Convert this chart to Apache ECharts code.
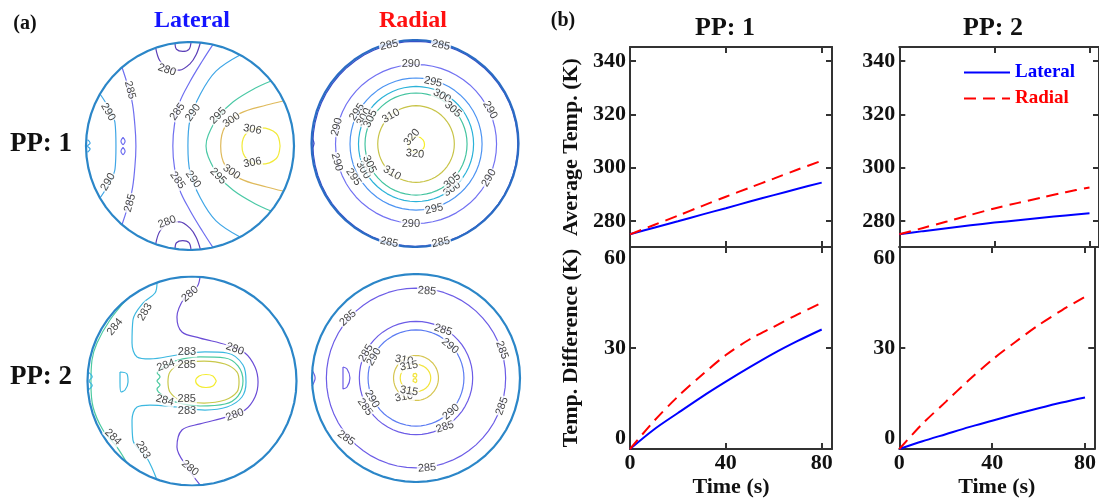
<!DOCTYPE html>
<html>
<head>
<meta charset="utf-8">
<script src="https://cdn.jsdelivr.net/npm/echarts@6/dist/echarts.min.js"></script>
<style>
html, body { margin: 0; padding: 0; background: #fff; }
#main { width: 1099px; height: 500px; }
</style>
</head>
<body>
<div id="main"></div>
<script>
// ---- (b) time series ----
const timeS = [0, 10, 20, 30, 40, 50, 60, 70, 80];
const avgLatPP1 = [275.0, 277.5, 279.9, 282.4, 284.8, 287.3, 289.7, 292.1, 294.4];
const avgRadPP1 = [275.0, 278.5, 282.0, 285.6, 289.1, 292.5, 295.9, 299.3, 302.6];
const avgLatPP2 = [275.0, 276.2, 277.3, 278.4, 279.4, 280.3, 281.2, 282.1, 282.9];
const avgRadPP2 = [275.0, 277.4, 279.8, 282.3, 284.7, 286.8, 288.8, 290.8, 292.6];
const diffLatPP1 = [0, 5.8, 10.7, 15.5, 20.0, 24.3, 28.4, 32.1, 35.5];
const diffRadPP1 = [0, 8.3, 15.6, 22.0, 27.9, 32.6, 36.3, 40.0, 43.4];
const diffLatPP2 = [0, 2.3, 4.4, 6.5, 8.4, 10.3, 12.1, 13.8, 15.3];
const diffRadPP2 = [0, 7.5, 14.0, 20.5, 26.5, 31.8, 36.8, 41.2, 45.2];
const avgTicks = [280, 300, 320, 340];
const diffTicks = [0, 30, 60];
const timeTicks = [0, 40, 80];

// ---- (a) contour lines, unit-circle coords, [level, points] ----
const lat1Lines = [
  [306, [[0.866,0],[0.83,0.12],[0.683,0.175],[0.55,0.13],[0.5,0],[0.55,-0.13],[0.683,-0.175],[0.83,-0.12],[0.866,0]]],
  [300, [[0.895,0.433],[0.737,0.394],[0.481,0.314],[0.337,0.186],[0.295,0],[0.337,-0.186],[0.481,-0.314],[0.737,-0.394],[0.895,-0.433]]],
  [295, [[0.78,0.625],[0.625,0.555],[0.416,0.426],[0.272,0.282],[0.176,0.106],[0.154,0],[0.176,-0.106],[0.272,-0.282],[0.416,-0.426],[0.625,-0.555],[0.78,-0.625]]],
  [290, [[0.481,0.875],[0.25,0.72],[0.1,0.5],[0.0,0.25],[-0.02,0],[0.0,-0.25],[0.1,-0.5],[0.25,-0.72],[0.481,-0.875]]],
  [285, [[0.22,0.975],[0.12,0.82],[0.0,0.62],[-0.1,0.42],[-0.15,0.2],[-0.165,0],[-0.15,-0.2],[-0.1,-0.42],[0.0,-0.62],[0.12,-0.82],[0.22,-0.975]]],
  [280, [[-0.33,0.944],[-0.29,0.82],[-0.2,0.74],[-0.1,0.73],[0.0,0.79],[0.06,0.88],[0.1,0.995]]],
  [280, [[-0.33,-0.944],[-0.29,-0.82],[-0.2,-0.74],[-0.1,-0.73],[0.0,-0.79],[0.06,-0.88],[0.1,-0.995]]],
  [280, [[-0.144,0.99],[-0.13,0.93],[-0.07,0.91],[-0.01,0.93],[0.01,1.0]]],
  [280, [[-0.144,-0.99],[-0.13,-0.93],[-0.07,-0.91],[-0.01,-0.93],[0.01,-1.0]]],
  [285, [[-0.654,0.757],[-0.56,0.44],[-0.53,0.2],[-0.52,0],[-0.53,-0.2],[-0.56,-0.44],[-0.654,-0.757]]],
  [290, [[-0.865,0.5],[-0.769,0.346],[-0.721,0.221],[-0.712,0],[-0.721,-0.221],[-0.769,-0.346],[-0.865,-0.5]]],
  [285, [[-0.644,0.083],[-0.624,0.048],[-0.644,0.013],[-0.664,0.048],[-0.644,0.083]]],
  [285, [[-0.644,-0.013],[-0.624,-0.048],[-0.644,-0.083],[-0.664,-0.048],[-0.644,-0.013]]],
  [290, [[-0.985,0.06],[-0.96,0.03],[-0.985,0],[-0.96,-0.03],[-0.985,-0.06]]]
];
const lat1Labels = [
  ['280',-0.221,0.731,-20], ['280',-0.221,-0.731,20],
  ['285',-0.577,0.538,-75], ['285',-0.577,-0.548,75],
  ['290',-0.788,0.327,-60], ['290',-0.788,-0.346,60],
  ['285',-0.12,0.33,55], ['285',-0.12,-0.33,-55],
  ['290',0.03,0.32,55], ['290',0.03,-0.32,-55],
  ['295',0.27,0.29,45], ['295',0.27,-0.29,-45],
  ['300',0.4,0.25,35], ['300',0.4,-0.25,-35],
  ['306',0.6,0.16,-10], ['306',0.6,-0.16,10]
];

// radial PP1 rings: [level, cx, cy, rx, ry]
const rad1Rings = [
  [285, 0.003, -0.003, 0.99, 0.99],
  [290, 0.01, -0.005, 0.778, 0.768],
  [295, 0.01, -0.005, 0.638, 0.638],
  [300, 0.01, -0.005, 0.556, 0.556],
  [305, 0.01, -0.005, 0.493, 0.493],
  [310, 0.01, -0.005, 0.37, 0.37],
  [320, 0.015, -0.01, 0.077, 0.077]
];
const rad1Lines = [
  [285, [[-1.0,0.06],[-0.975,0.0],[-1.0,-0.06]]]
];
const rad1Labels = [
  ['285',-0.25,0.95,12], ['285',0.25,0.95,-12], ['285',-0.25,-0.955,-12], ['285',0.25,-0.955,12],
  ['290',-0.04,0.765,0], ['290',-0.755,0.16,75], ['290',-0.755,-0.18,-75],
  ['290',0.725,0.324,-60], ['290',0.715,-0.333,60], ['290',-0.04,-0.775,0],
  ['295',0.174,0.594,-12], ['295',-0.56,0.304,55], ['295',-0.595,-0.324,-55], ['295',0.184,-0.633,12],
  ['300',0.261,0.459,-28], ['300',-0.493,0.256,60], ['300',-0.5,-0.256,-60], ['300',0.357,-0.44,35],
  ['305',0.366,0.33,-42], ['305',-0.43,0.24,65], ['305',-0.44,-0.2,-65], ['305',0.36,-0.36,40],
  ['310',-0.232,0.266,30], ['310',-0.222,-0.285,-30],
  ['320',-0.03,0.06,50], ['320',0.0,-0.1,-5]
];

const lat2Lines = [
  [286, [[0.233,0],[0.2,0.048],[0.134,0.062],[0.068,0.048],[0.035,0],[0.068,-0.048],[0.134,-0.062],[0.2,-0.048],[0.233,0]]],
  [285, [[-0.23,-0.01],[-0.211,0.086],[-0.115,0.163],[0.115,0.191],[0.316,0.163],[0.431,0.086],[0.45,-0.01],[0.431,-0.105],[0.316,-0.182],[0.115,-0.211],[-0.115,-0.182],[-0.211,-0.105],[-0.23,-0.01]]],
  [284, [[-0.335,0.077],[-0.287,0.124],[-0.163,0.191],[0.077,0.23],[0.316,0.22],[0.44,0.144],[0.488,0],[0.44,-0.144],[0.316,-0.22],[0.077,-0.239],[-0.163,-0.2],[-0.287,-0.134],[-0.335,-0.077],[-0.306,-0.038],[-0.335,0],[-0.306,0.038],[-0.335,0.077]]],
  [284, [[-0.622,0.785],[-0.785,0.584],[-0.909,0.364],[-0.957,0.201],[-0.967,-0.019],[-0.947,-0.249],[-0.852,-0.469],[-0.718,-0.632],[-0.622,-0.785]]],
  [283, [[-0.335,0.938],[-0.354,0.842],[-0.469,0.746],[-0.565,0.584],[-0.574,0.364],[-0.526,0.23],[-0.402,0.211],[-0.144,0.249],[0.124,0.278],[0.335,0.268],[0.488,0.153],[0.517,-0.01],[0.478,-0.153],[0.335,-0.249],[0.124,-0.278],[-0.144,-0.249],[-0.402,-0.23],[-0.526,-0.249],[-0.574,-0.373],[-0.565,-0.565],[-0.431,-0.737],[-0.335,-0.947]]],
  [283, [[-0.689,0.086],[-0.622,0.067],[-0.612,-0.01],[-0.641,-0.086],[-0.679,-0.105],[-0.689,-0.01],[-0.689,0.086]]],
  [280, [[0.077,0.995],[0.048,0.9],[-0.067,0.804],[-0.144,0.612],[-0.096,0.469],[0.077,0.411],[0.335,0.344],[0.507,0.268],[0.603,0.134],[0.632,-0.01],[0.603,-0.153],[0.507,-0.278],[0.335,-0.344],[0.077,-0.411],[-0.096,-0.469],[-0.144,-0.632],[-0.048,-0.823],[0.077,-0.995]]],
  [283, [[-0.985,0.08],[-0.955,0.04],[-0.985,0],[-0.955,-0.04],[-0.985,-0.08]]]
];
const lat2Labels = [
  ['280',-0.019,0.833,40], ['280',0.411,0.306,-20], ['280',0.411,-0.325,20], ['280',-0.019,-0.833,-40],
  ['283',-0.45,0.66,60], ['283',-0.469,-0.66,-60], ['283',-0.048,0.278,0], ['283',-0.048,-0.287,0],
  ['284',-0.737,0.517,50], ['284',-0.756,-0.536,-45], ['284',-0.25,0.15,20], ['284',-0.26,-0.185,-15],
  ['285',-0.05,0.15,0], ['285',-0.05,-0.175,0]
];

const rad2Rings = [
  [285, 0.0, 0.0, 0.862, 0.865],
  [285, 0.0, 0.0, 0.545, 0.545],
  [290, 0.0, 0.0, 0.461, 0.462],
  [310, 0.0, 0.0, 0.216, 0.216],
  [315, -0.005, 0.0, 0.147, 0.132],
  [318, -0.01, 0.025, 0.02, 0.022],
  [318, -0.01, -0.025, 0.02, 0.022]
];
const rad2Lines = [
  [285, [[-0.702,0.106],[-0.663,0.087],[-0.635,0],[-0.663,-0.087],[-0.702,-0.106],[-0.702,0.106]]],
  [285, [[-1.0,0.077],[-0.97,0],[-1.0,-0.077]]]
];
const rad2Labels = [
  ['285',0.106,0.837,-5], ['285',-0.654,0.577,42], ['285',0.827,0.269,-70], ['285',0.827,-0.269,70],
  ['285',-0.673,-0.577,-35], ['285',0.106,-0.865,5],
  ['285',0.26,0.462,-18], ['285',-0.481,0.24,60], ['285',-0.49,-0.279,-55], ['285',0.279,-0.471,18],
  ['290',-0.404,0.202,60], ['290',0.327,0.308,-40], ['290',-0.423,-0.202,-60], ['290',0.337,-0.327,40],
  ['310',-0.115,0.173,-10], ['310',-0.115,-0.183,10],
  ['315',-0.067,0.115,10], ['315',-0.067,-0.125,-10]
];

// contour colours per panel (styles kept apart from data)
const lat1Colors = {280:'#5b3fb8', 285:'#6f6ff0', 290:'#3fa6e6', 295:'#4cc9a6', 300:'#dfba5c', 306:'#f2ea3a'};
const rad1Colors = {285:'#3a4ac8', 290:'#7272f2', 295:'#4d94f2', 300:'#2bb2d8', 305:'#44c4a0', 310:'#c8c448', 320:'#f6ee2a'};
const lat2Colors = {280:'#6a4cd6', 283:'#3cb8e0', 284:'#4ccaa0', 285:'#c9c84a', 286:'#f3ec2c'};
const rad2Colors = {285:'#6c5ce6', 290:'#5c7cf2', 310:'#d6c652', 315:'#f2e43a', 318:'#f2e43a'};

function ringPoints(c) {
  const pts = [];
  for (let i = 0; i <= 60; i++) {
    const a = i / 60 * 2 * Math.PI;
    pts.push([c[1] + c[3] * Math.cos(a), c[2] + c[4] * Math.sin(a)]);
  }
  return pts;
}

const grids = [], xAxes = [], yAxes = [], series = [];
const serif = '"Liberation Serif", "Times New Roman", serif';

// contour panels
const panels = [
  {left: 86, top: 42, size: 208, lines: lat1Lines, rings: [], labels: lat1Labels, colors: lat1Colors, border: '#2b86c8'},
  {left: 311.5, top: 40, size: 207, lines: rad1Lines, rings: rad1Rings, labels: rad1Labels, colors: rad1Colors, border: '#2a6cc4'},
  {left: 87.5, top: 276.5, size: 209, lines: lat2Lines, rings: [], labels: lat2Labels, colors: lat2Colors, border: '#2b86c8'},
  {left: 312, top: 274, size: 208, lines: rad2Lines, rings: rad2Rings, labels: rad2Labels, colors: rad2Colors, border: '#2b86c8'}
];
panels.forEach(function (p) {
  const gi = grids.length;
  grids.push({left: p.left, top: p.top, width: p.size, height: p.size});
  xAxes.push({gridIndex: gi, type: 'value', min: -1, max: 1, show: false});
  yAxes.push({gridIndex: gi, type: 'value', min: -1, max: 1, show: false});
  const ax = xAxes.length - 1;
  const base = {type: 'line', xAxisIndex: ax, yAxisIndex: ax, symbol: 'none', silent: true, animation: false};
  series.push(Object.assign({}, base, {data: ringPoints([0, 0, 0, 1, 1]), lineStyle: {color: p.border, width: 2.2}, z: 3}));
  p.rings.forEach(function (c) {
    series.push(Object.assign({}, base, {data: ringPoints(c), lineStyle: {color: p.colors[c[0]], width: 1.2}, z: 2}));
  });
  p.lines.forEach(function (l) {
    series.push(Object.assign({}, base, {data: l[1], smooth: 0.35, lineStyle: {color: p.colors[l[0]], width: 1.2}, z: 2}));
  });
  series.push({
    type: 'scatter', xAxisIndex: ax, yAxisIndex: ax, symbolSize: 2, silent: true, animation: false, z: 4,
    itemStyle: {color: 'rgba(255,255,255,0)'},
    label: {show: true, position: 'inside', fontSize: 11, color: '#111', fontFamily: '"Liberation Sans", Arial, sans-serif',
            backgroundColor: '#fff', padding: [0, 1]},
    labelLayout: {hideOverlap: false},
    data: p.labels.map(function (l) { return {value: [l[1], l[2]], label: {formatter: l[0], rotate: l[3]}}; })
  });
});

// line chart panels
const charts = [
  {left: 630, top: 47, width: 202, height: 200, xmax: 84.3, ymin: 270.25, ymax: 345.25, yTicks: avgTicks, bottom: false, yName: 'Average Temp. (K)', lat: avgLatPP1, rad: avgRadPP1},
  {left: 630, top: 247, width: 202, height: 202, xmax: 84.3, ymin: 0, ymax: 60, yTicks: diffTicks, bottom: true, yName: 'Temp. Difference (K)', lat: diffLatPP1, rad: diffRadPP1},
  {left: 899.3, top: 47, width: 201, height: 200, xmax: 84, ymin: 270.25, ymax: 345.25, yTicks: avgTicks, bottom: false, yName: '', lat: avgLatPP2, rad: avgRadPP2},
  {left: 899.3, top: 247, width: 201, height: 202, xmax: 84, ymin: 0, ymax: 60, yTicks: diffTicks, bottom: true, yName: '', lat: diffLatPP2, rad: diffRadPP2}
];
const axLine = {show: true, onZero: false, lineStyle: {color: '#333', width: 2}};
const tickIn = function (vals) { return {show: true, inside: true, length: 6, customValues: vals, lineStyle: {color: '#333', width: 2}}; };
const lblFont = {fontFamily: serif, fontWeight: 'bold', fontSize: 22, color: '#111'};
charts.forEach(function (c) {
  const gi = grids.length;
  grids.push({left: c.left, top: c.top, width: c.width, height: c.height});
  const xi = xAxes.length;
  xAxes.push({
    gridIndex: gi, type: 'value', position: 'bottom', min: 0, max: c.xmax,
    axisLine: axLine, axisTick: tickIn(timeTicks), splitLine: {show: false},
    axisLabel: Object.assign({show: c.bottom, customValues: timeTicks, margin: 3}, lblFont),
    name: c.bottom ? 'Time (s)' : '', nameLocation: 'middle', nameGap: 27,
    nameTextStyle: {fontFamily: serif, fontWeight: 'bold', fontSize: 22, color: '#111'}
  });
  xAxes.push({
    gridIndex: gi, type: 'value', position: 'top', min: 0, max: c.xmax,
    axisLine: axLine, axisTick: tickIn(timeTicks), splitLine: {show: false}, axisLabel: {show: false}
  });
  const yi = yAxes.length;
  const yLabel = Object.assign({customValues: c.yTicks, margin: 4}, lblFont);
  if (c.bottom) { yLabel.verticalAlignMinLabel = 'bottom'; yLabel.verticalAlignMaxLabel = 'top'; }
  yAxes.push({
    gridIndex: gi, type: 'value', position: 'left', min: c.ymin, max: c.ymax,
    axisLine: axLine, axisTick: tickIn(c.yTicks), splitLine: {show: false},
    axisLabel: yLabel,
    name: c.yName, nameLocation: 'middle', nameGap: 48, nameRotate: 90,
    nameTextStyle: {fontFamily: serif, fontWeight: 'bold', fontSize: 22, color: '#111'}
  });
  yAxes.push({
    gridIndex: gi, type: 'value', position: 'right', min: c.ymin, max: c.ymax,
    axisLine: axLine, axisTick: tickIn(c.yTicks), splitLine: {show: false}, axisLabel: {show: false}
  });
  series.push({
    name: 'Lateral', type: 'line', xAxisIndex: xi, yAxisIndex: yi, symbol: 'none', smooth: 0.3, animation: false,
    data: timeS.map(function (t, i) { return [t, c.lat[i]]; }),
    lineStyle: {color: '#0000ff', width: 2}, itemStyle: {color: '#0000ff'}, z: 3
  });
  series.push({
    name: 'Radial', type: 'line', xAxisIndex: xi, yAxisIndex: yi, symbol: 'none', smooth: 0.3, animation: false,
    data: timeS.map(function (t, i) { return [t, c.rad[i]]; }),
    lineStyle: {color: '#ff0000', width: 2, type: [12, 7]}, itemStyle: {color: '#ff0000'}, z: 3
  });
});

const txt = function (s, x, y, size, color) {
  return {type: 'text', x: x, y: y, silent: true,
    style: {text: s, fill: color || '#111', font: 'bold ' + size + 'px ' + serif,
            align: 'center', verticalAlign: 'middle', textAlign: 'center', textVerticalAlign: 'middle'}};
};

const chart = echarts.init(document.getElementById('main'));
chart.setOption({
  animation: false,
  backgroundColor: '#fff',
  grid: grids,
  xAxis: xAxes,
  yAxis: yAxes,
  legend: {
    orient: 'vertical', left: 958, top: 58, itemWidth: 46, itemHeight: 14, itemGap: 7,
    itemStyle: {opacity: 0},
    textStyle: {fontFamily: serif, fontWeight: 'bold', fontSize: 19},
    data: [{name: 'Lateral', textStyle: {color: '#0000ff'}}, {name: 'Radial', textStyle: {color: '#ff0000'}}]
  },
  graphic: [
    txt('(a)', 25, 24, 20),
    txt('Lateral', 192, 21, 24, '#1414ff'),
    txt('Radial', 413, 21, 24, '#ff1010'),
    txt('PP: 1', 41, 144, 27),
    txt('PP: 2', 41, 377, 27),
    txt('(b)', 563, 21, 20),
    txt('PP: 1', 725, 28, 26),
    txt('PP: 2', 993, 28, 26)
  ],
  series: series
});
</script>
</body>
</html>
